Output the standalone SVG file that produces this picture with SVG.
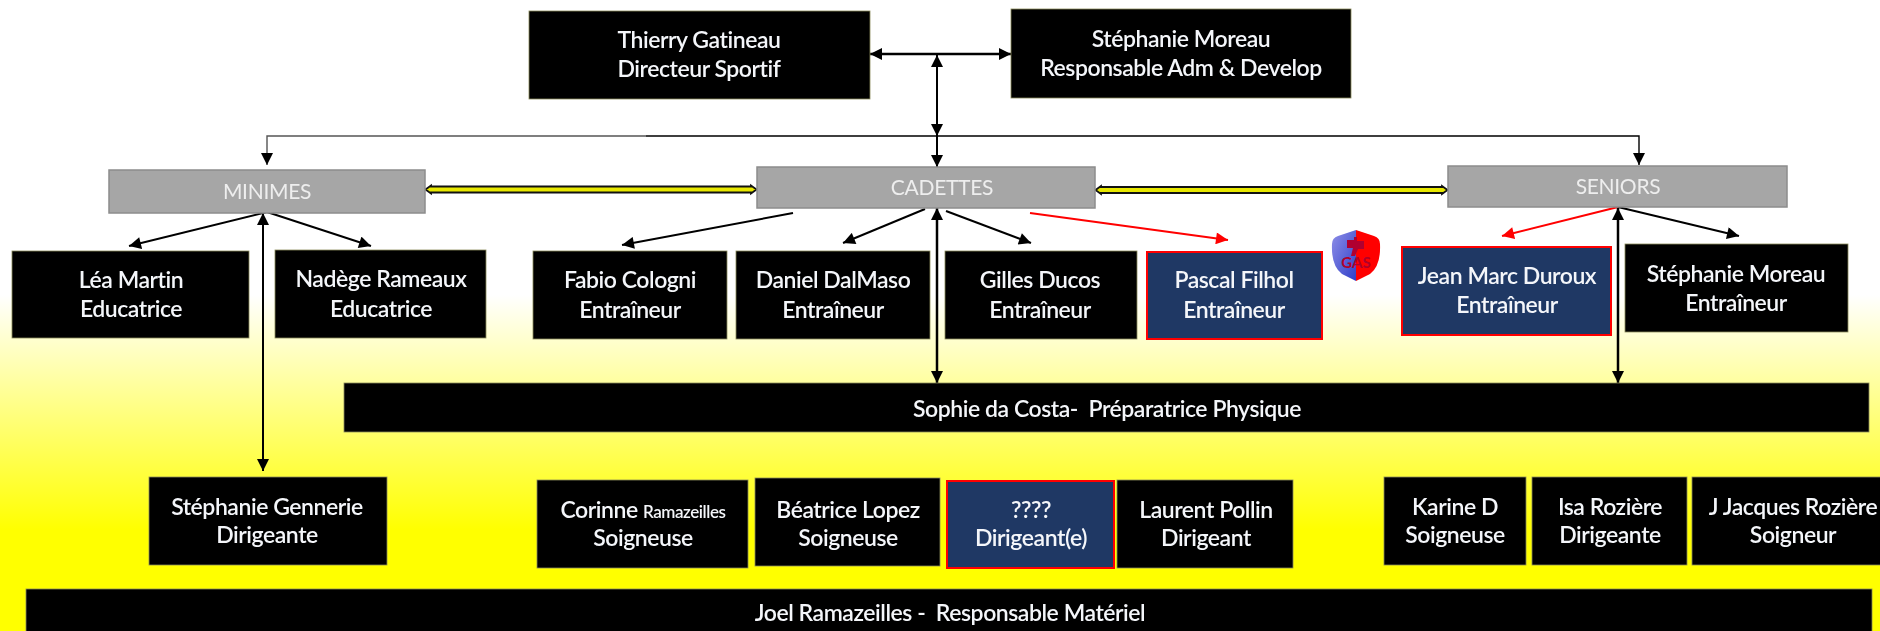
<svg xmlns="http://www.w3.org/2000/svg" width="1880" height="631" viewBox="0 0 1880 631">
<style>
.b{fill:#000;stroke:#8a8a5a;stroke-width:.8}
.n{fill:#1f3864;stroke:#f00;stroke-width:2}
.g{fill:#a6a6a6;stroke:#8c8c8c;stroke-width:1.5}
text{font-family:"Lato","Open Sans","Liberation Sans",sans-serif;font-size:23px;font-weight:600;letter-spacing:-.45px;fill:#f4f6fa;text-anchor:middle;filter:url(#soft)}
.h{font-size:21px;font-weight:400;letter-spacing:-.3px;fill:#eee}
.s{font-size:17px}
.k{fill:none;stroke:#000;stroke-width:2}
.r{fill:none;stroke:#f00;stroke-width:2}
.y{fill:#e8e800;stroke:#111;stroke-width:1.800}
</style>
<defs>
<linearGradient id="bg" gradientUnits="userSpaceOnUse" x1="0" y1="295" x2="0" y2="530"><stop offset="0" stop-color="#fff"/><stop offset="1" stop-color="#ff0"/></linearGradient>
<linearGradient id="sh" x1="0" y1="0" x2="1" y2="1"><stop offset="0" stop-color="#8f8fe8"/><stop offset="1" stop-color="#2f3fc8"/></linearGradient>
<filter id="soft" x="-5%" y="-20%" width="110%" height="140%"><feGaussianBlur stdDeviation=".4"/></filter>
<marker id="a" viewBox="0 0 10 10" refX="10" refY="5" markerUnits="userSpaceOnUse" markerWidth="13" markerHeight="12" orient="auto-start-reverse"><path d="M0 0L10 5L0 10z" fill="#000"/></marker>
<marker id="ar" viewBox="0 0 10 10" refX="10" refY="5" markerUnits="userSpaceOnUse" markerWidth="13" markerHeight="12" orient="auto-start-reverse"><path d="M0 0L10 5L0 10z" fill="#f00"/></marker>
</defs>
<rect width="1880" height="631" fill="url(#bg)"/>
<g id="connectors">
<path class="k" style="stroke-width:2.500" d="M870 54H1011" marker-start="url(#a)" marker-end="url(#a)"/>
<path class="k" d="M937 55V136" marker-start="url(#a)" marker-end="url(#a)"/>
<path class="k" d="M937 136V167" marker-end="url(#a)"/>
<path class="k" style="stroke-width:1.400;stroke:#555" d="M646 136H267V165" marker-end="url(#a)"/>
<path class="k" style="stroke-width:1.400" d="M646 136H1639V165" marker-end="url(#a)"/>
<path class="y" d="M425.500 189.500L431 185.500V186.500H751V185.500L756.500 189.500L751 193.500V192.500H431V193.500Z"/>
<path class="y" d="M1095.500 190L1101 186V187H1442V186L1447.500 190L1442 194V193H1101V194Z"/>
<path class="k" d="M267 212L129 246" marker-end="url(#a)"/>
<path class="k" d="M267 212L371 246" marker-end="url(#a)"/>
<path class="k" d="M263 213V471" marker-start="url(#a)" marker-end="url(#a)"/>
<path class="k" d="M793 213L622 245" marker-end="url(#a)"/>
<path class="k" d="M925 209L843 243" marker-end="url(#a)"/>
<path class="k" d="M946 211L1031 243" marker-end="url(#a)"/>
<path class="r" d="M1030 213L1228 240" marker-end="url(#ar)"/>
<path class="k" style="stroke-width:2.500" d="M937 208V383" marker-start="url(#a)" marker-end="url(#a)"/>
<path class="r" d="M1618 207L1502 236" marker-end="url(#ar)"/>
<path class="k" d="M1618 207L1739 236" marker-end="url(#a)"/>
<path class="k" style="stroke-width:2.500" d="M1618 208V383" marker-start="url(#a)" marker-end="url(#a)"/>
</g>
<g id="thierry"><rect class="b" x="529" y="11" width="341" height="88"/><text x="699" y="48">Thierry Gatineau</text><text x="699" y="77">Directeur Sportif</text></g>
<g id="stephanie-top"><rect class="b" x="1011" y="9" width="340" height="89"/><text x="1181" y="47">Stéphanie Moreau</text><text x="1181" y="76">Responsable Adm &amp; Develop</text></g>
<g id="minimes"><rect class="g" x="109" y="170" width="316" height="43"/><text class="h" x="267" y="199">MINIMES</text></g>
<g id="cadettes"><rect class="g" x="757" y="167" width="338" height="41"/><text class="h" x="942" y="195">CADETTES</text></g>
<g id="seniors"><rect class="g" x="1448" y="166" width="339" height="41"/><text class="h" x="1618" y="194">SENIORS</text></g>
<g id="lea"><rect class="b" x="12" y="251" width="237" height="87"/><text x="131" y="288">Léa Martin</text><text x="131" y="317">Educatrice</text></g>
<g id="nadege"><rect class="b" x="275" y="250" width="211" height="88"/><text x="381" y="287">Nadège Rameaux</text><text x="381" y="317">Educatrice</text></g>
<g id="fabio"><rect class="b" x="533" y="251" width="194" height="88"/><text x="630" y="288">Fabio Cologni</text><text x="630" y="318">Entraîneur</text></g>
<g id="daniel"><rect class="b" x="736" y="251" width="194" height="88"/><text x="833" y="288">Daniel DalMaso</text><text x="833" y="318">Entraîneur</text></g>
<g id="gilles"><rect class="b" x="945" y="251" width="192" height="88"/><text x="1040" y="288">Gilles Ducos</text><text x="1040" y="318">Entraîneur</text></g>
<g id="pascal"><rect class="n" x="1147" y="252" width="175" height="87"/><text x="1234" y="288">Pascal Filhol</text><text x="1234" y="318">Entraîneur</text></g>
<g id="logo">
<rect x="1323" y="225" width="67" height="65" fill="#fff"/>
<path d="M1356 230L1338 236Q1332 238 1332 244Q1331 266 1342 274L1356 281Z" fill="url(#sh)"/>
<path d="M1356 230L1374 236Q1380 238 1380 244Q1381 266 1370 274L1356 281Z" fill="#f00"/>
<path d="M1347 240h7v-3h3v4h7v8h-6l-3 7h-4l2-8h-6z" fill="#b00030"/>
<text x="1356" y="268" style="font-size:15px;font-weight:700;letter-spacing:0;fill:#b0002a;filter:none">GAS</text>
</g>
<g id="jean-marc"><rect class="n" x="1402" y="247" width="209" height="88"/><text x="1507" y="284">Jean Marc Duroux</text><text x="1507" y="313">Entraîneur</text></g>
<g id="stephanie-entr"><rect class="b" x="1625" y="244" width="223" height="88"/><text x="1736" y="282">Stéphanie Moreau</text><text x="1736" y="311">Entraîneur</text></g>
<g id="sophie"><rect class="b" x="344" y="383" width="1525" height="49"/><text x="1107" y="417" xml:space="preserve">Sophie da Costa-  Préparatrice Physique</text></g>
<g id="gennerie"><rect class="b" x="149" y="477" width="238" height="88"/><text x="267" y="515">Stéphanie Gennerie</text><text x="267" y="543">Dirigeante</text></g>
<g id="corinne"><rect class="b" x="537" y="480" width="211" height="88"/><text x="643" y="518">Corinne <tspan class="s">Ramazeilles</tspan></text><text x="643" y="546">Soigneuse</text></g>
<g id="beatrice"><rect class="b" x="755" y="478" width="185" height="88"/><text x="848" y="518">Béatrice Lopez</text><text x="848" y="546">Soigneuse</text></g>
<g id="unknown"><rect class="n" x="947" y="481" width="167" height="87"/><text x="1031" y="518">????</text><text x="1031" y="546">Dirigeant(e)</text></g>
<g id="laurent"><rect class="b" x="1117" y="480" width="176" height="88"/><text x="1206" y="518">Laurent Pollin</text><text x="1206" y="546">Dirigeant</text></g>
<g id="karine"><rect class="b" x="1384" y="477" width="142" height="88"/><text x="1455" y="515">Karine D</text><text x="1455" y="543">Soigneuse</text></g>
<g id="isa"><rect class="b" x="1532" y="477" width="155" height="88"/><text x="1610" y="515">Isa Rozière</text><text x="1610" y="543">Dirigeante</text></g>
<g id="jacques"><rect class="b" x="1692" y="477" width="190" height="88"/><text x="1793" y="515">J Jacques Rozière</text><text x="1793" y="543">Soigneur</text></g>
<g id="joel"><rect class="b" x="26" y="589" width="1846" height="44"/><text x="950" y="621" xml:space="preserve">Joel Ramazeilles -  Responsable Matériel</text></g>
</svg>
